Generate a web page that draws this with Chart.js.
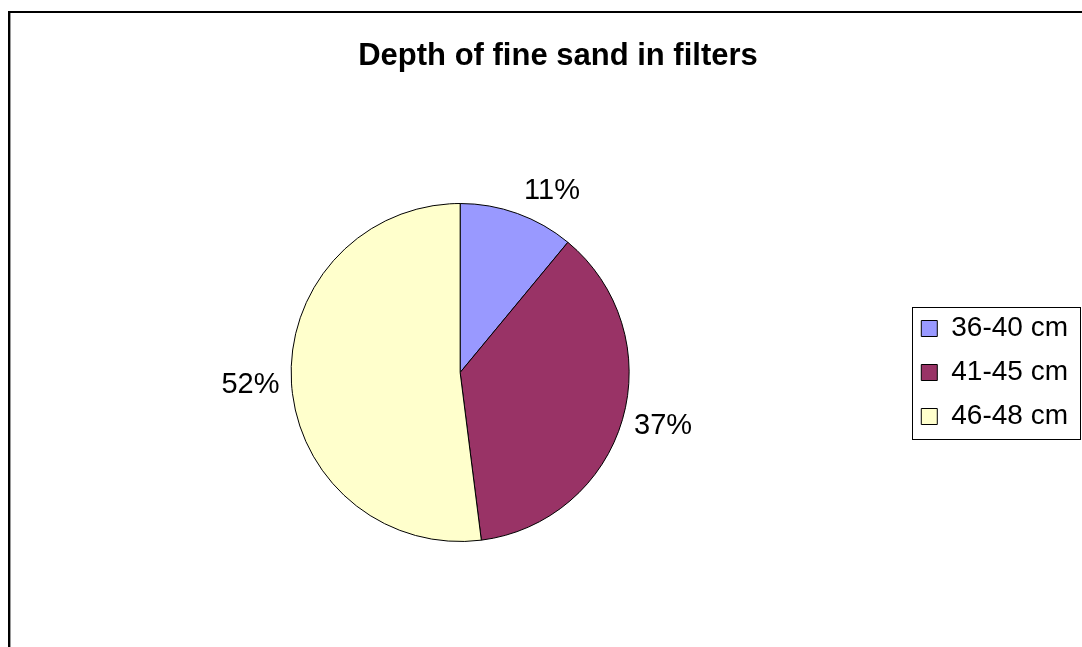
<!DOCTYPE html>
<html>
<head>
<meta charset="utf-8">
<script src="https://cdn.jsdelivr.net/npm/chart.js@4/dist/chart.umd.min.js"></script>
<style>
  html, body { margin: 0; padding: 0; background: #ffffff; }
  #wrap { width: 1082px; height: 647px; position: relative; }
</style>
</head>
<body>
<div id="wrap"><canvas id="chart" width="1082" height="647"></canvas></div>
<script>
// Sand depth classes and their share of filters (%)
const categories = ['36-40 cm', '41-45 cm', '46-48 cm'];
const shares = [11, 37, 52];
const sliceColors = ['#9999FF', '#993366', '#FFFFCC'];
const chartTitle = 'Depth of fine sand in filters';

const FONT = '"Liberation Sans", Arial, sans-serif';

// Outer frame around the chart object
const framePlugin = {
  id: 'frame',
  beforeDraw(chart) {
    const ctx = chart.ctx;
    ctx.save();
    ctx.fillStyle = '#ffffff';
    ctx.fillRect(0, 0, chart.width, chart.height);
    ctx.fillStyle = '#000000';
    ctx.fillRect(8, 11, chart.width - 8, 2);
    ctx.fillRect(8, 11, 2, chart.height - 11);
    ctx.fillStyle = '#9a9a9a';
    ctx.fillRect(10, 13, 1, chart.height - 13);
    ctx.restore();
  }
};

// Chart heading
const headingPlugin = {
  id: 'heading',
  afterDraw(chart) {
    const ctx = chart.ctx;
    ctx.save();
    ctx.font = 'bold 31px ' + FONT;
    ctx.fillStyle = '#000000';
    ctx.textAlign = 'center';
    ctx.textBaseline = 'alphabetic';
    ctx.fillText(chartTitle, 558, 65);
    ctx.restore();
  }
};

// Percentage labels outside each slice: the label box hangs off a point
// just beyond the rim, pushed sideways away from the pie.
const sliceLabelPlugin = {
  id: 'sliceLabels',
  afterDatasetsDraw(chart) {
    const ctx = chart.ctx;
    const meta = chart.getDatasetMeta(0);
    ctx.save();
    ctx.font = '29px ' + FONT;
    ctx.fillStyle = '#000000';
    ctx.textAlign = 'center';
    ctx.textBaseline = 'middle';
    meta.data.forEach((arc, i) => {
      const p = arc.getProps(['x', 'y', 'startAngle', 'endAngle', 'outerRadius'], true);
      const mid = (p.startAngle + p.endAngle) / 2;
      const text = shares[i] + '%';
      const halfW = ctx.measureText(text).width / 2 + 4;
      const halfH = 16;
      const d = p.outerRadius + 8;
      const ux = Math.cos(mid), uy = Math.sin(mid);
      const sx = Math.max(-1, Math.min(1, ux * 3));
      const cx = p.x + ux * d + sx * halfW;
      const cy = p.y + uy * d + uy * halfH;
      ctx.fillText(text, cx, cy);
    });
    ctx.restore();
  }
};

// Border around the legend entries
const legendFramePlugin = {
  id: 'legendFrame',
  afterDraw(chart) {
    const boxes = chart.legend && chart.legend.legendHitBoxes;
    if (!boxes || !boxes.length) return;
    const left = Math.min(...boxes.map(b => b.left)) - 9;
    const right = Math.max(...boxes.map(b => b.left + b.width)) + 12;
    const top = boxes[0].top - 8;
    const bottom = boxes[boxes.length - 1].top + boxes[boxes.length - 1].height + 8;
    const ctx = chart.ctx;
    ctx.save();
    ctx.strokeStyle = '#000000';
    ctx.lineWidth = 1;
    ctx.strokeRect(Math.round(left) + 0.5, Math.round(top) + 0.5,
                   Math.round(right - left), Math.round(bottom - top));
    ctx.restore();
  }
};

new Chart(document.getElementById('chart'), {
  type: 'pie',
  data: {
    labels: categories,
    datasets: [{
      data: shares,
      backgroundColor: sliceColors,
      borderColor: '#000000',
      borderWidth: 1,
      hoverOffset: 0
    }]
  },
  options: {
    responsive: false,
    animation: false,
    layout: { padding: { left: 15, right: 4, top: 203, bottom: 105 } },
    plugins: {
      title: { display: false },
      tooltip: { enabled: false },
      legend: {
        display: true,
        position: 'right',
        align: 'center',
        labels: {
          boxWidth: 16,
          boxHeight: 16,
          padding: 16,
          color: '#000000',
          font: { family: FONT, size: 28 }
        }
      }
    }
  },
  plugins: [framePlugin, headingPlugin, sliceLabelPlugin, legendFramePlugin]
});
</script>
</body>
</html>
